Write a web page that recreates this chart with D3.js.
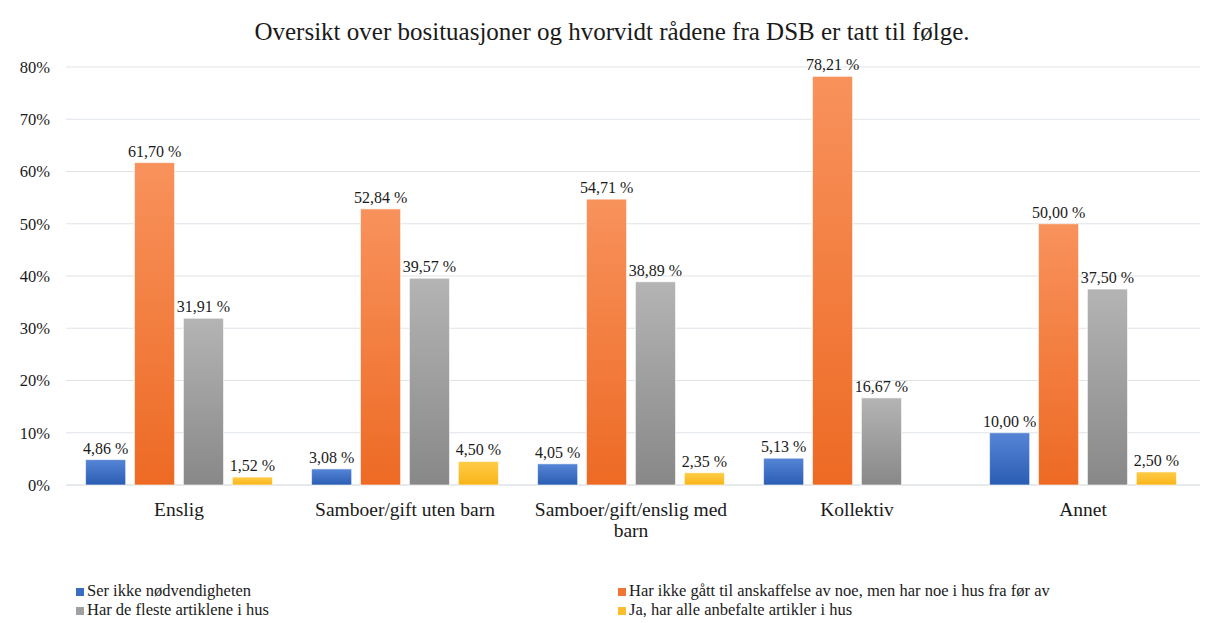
<!DOCTYPE html>
<html>
<head>
<meta charset="utf-8">
<script src="https://cdn.jsdelivr.net/npm/d3@7"></script>
<style>
  body { margin: 0; background: #fff; }
  text { font-family: "Liberation Serif", "Times New Roman", serif; fill: #1a1a1a; }
</style>
</head>
<body>
<script>
// data
const categories = ["Enslig", "Samboer/gift uten barn", "Samboer/gift/enslig med barn", "Kollektiv", "Annet"];
const seriesNames = [
  "Ser ikke nødvendigheten",
  "Har ikke gått til anskaffelse av noe, men har noe i hus fra før av",
  "Har de fleste artiklene i hus",
  "Ja, har alle anbefalte artikler i hus"
];
const serSerIkke   = [4.86, 3.08, 4.05, 5.13, 10.00];
const serHarIkke   = [61.70, 52.84, 54.71, 78.21, 50.00];
const serFleste    = [31.91, 39.57, 38.89, 16.67, 37.50];
const serJaAlle    = [1.52, 4.50, 2.35, null, 2.50];
const yTicks = [0, 10, 20, 30, 40, 50, 60, 70, 80];

const allSeries = [serSerIkke, serHarIkke, serFleste, serJaAlle];
const colors = [
  ["#5685d6", "#2a5db3"],
  ["#f8925c", "#ed6a24"],
  ["#b4b4b4", "#888888"],
  ["#ffcc47", "#f8b418"]
];
const legendColors = ["#3a6cc4", "#f07535", "#a0a0a0", "#fbbd2c"];

const width = 1208, height = 623;
const plotLeft = 66, plotRight = 1196, plotTop = 67, plotBottom = 485;
const serif = "'Liberation Serif', 'Times New Roman', serif";

const svg = d3.select("body").append("svg")
  .attr("width", width).attr("height", height)
  .attr("font-family", serif);

const defs = svg.append("defs");
colors.forEach((c, i) => {
  const g = defs.append("linearGradient")
    .attr("id", "grad" + i)
    .attr("x1", 0).attr("y1", 0).attr("x2", 0).attr("y2", 1);
  g.append("stop").attr("offset", "0%").attr("stop-color", c[0]);
  g.append("stop").attr("offset", "100%").attr("stop-color", c[1]);
});

const x = d3.scaleBand().domain(categories).range([plotLeft, plotRight]);
const xi = d3.scaleBand().domain(d3.range(4)).range([0, x.bandwidth()])
  .paddingInner(0.18).paddingOuter(0.4);
const y = d3.scaleLinear().domain([0, 80]).range([plotBottom, plotTop]);

// title
svg.append("text")
  .attr("x", 612).attr("y", 40)
  .attr("text-anchor", "middle")
  .style("font-size", "25px")
  .text("Oversikt over bosituasjoner og hvorvidt rådene fra DSB er tatt til følge.");

// grid
svg.append("g").selectAll("line")
  .data(yTicks)
  .join("line")
  .attr("x1", plotLeft).attr("x2", 1200)
  .attr("y1", d => y(d)).attr("y2", d => y(d))
  .attr("stroke", d => d === 0 ? "#d0d5dc" : "#dfe3e8")
  .attr("stroke-width", 1.2);

svg.append("g").selectAll("text")
  .data(yTicks)
  .join("text")
  .attr("x", 50).attr("y", d => y(d))
  .attr("dy", "0.35em")
  .attr("text-anchor", "end")
  .style("font-size", "16.5px")
  .text(d => d + "%");

// bars
const fmt = v => d3.format(".2f")(v).replace(".", ",") + " %";
const groups = svg.append("g").selectAll("g")
  .data(categories)
  .join("g")
  .attr("transform", d => `translate(${x(d)},0)`);

groups.each(function(cat, ci) {
  const g = d3.select(this);
  const vals = allSeries.map((s, si) => ({si, v: s[ci]})).filter(d => d.v != null);
  g.selectAll("rect")
    .data(vals)
    .join("rect")
    .attr("x", d => xi(d.si))
    .attr("width", xi.bandwidth())
    .attr("y", d => y(d.v))
    .attr("height", d => y(0) - y(d.v))
    .attr("fill", d => `url(#grad${d.si})`)
    .attr("stroke", "#ffffff")
    .attr("stroke-opacity", 0.6)
    .attr("stroke-width", 1);
  g.selectAll("text.lbl")
    .data(vals)
    .join("text")
    .attr("class", "lbl")
    .attr("x", d => xi(d.si) + xi.bandwidth() / 2)
    .attr("y", d => y(d.v) - 6)
    .attr("text-anchor", "middle")
    .style("font-size", "16px")
    .text(d => fmt(d.v));
});

// category labels
const catLines = {"Samboer/gift/enslig med barn": ["Samboer/gift/enslig med", "barn"]};
svg.append("g").selectAll("text")
  .data(categories)
  .join("text")
  .attr("x", d => x(d) + x.bandwidth() / 2)
  .attr("y", 516)
  .attr("text-anchor", "middle")
  .style("font-size", "19.5px")
  .each(function(d) {
    const lines = catLines[d] || [d];
    d3.select(this).selectAll("tspan")
      .data(lines)
      .join("tspan")
      .attr("x", x(d) + x.bandwidth() / 2)
      .attr("dy", (l, i) => i === 0 ? 0 : 21)
      .text(l => l);
  });

// legend
const legendPos = [[76, 596], [618, 596], [76, 615], [618, 615]];
const leg = svg.append("g").selectAll("g")
  .data(seriesNames)
  .join("g")
  .attr("transform", (d, i) => `translate(${legendPos[i][0]},${legendPos[i][1]})`);
leg.append("rect")
  .attr("x", 0).attr("y", -8).attr("width", 8).attr("height", 8)
  .attr("fill", (d, i) => legendColors[i]);
leg.append("text")
  .attr("x", 11).attr("y", 0)
  .style("font-size", "16.5px")
  .text(d => d);
</script>
</body>
</html>
